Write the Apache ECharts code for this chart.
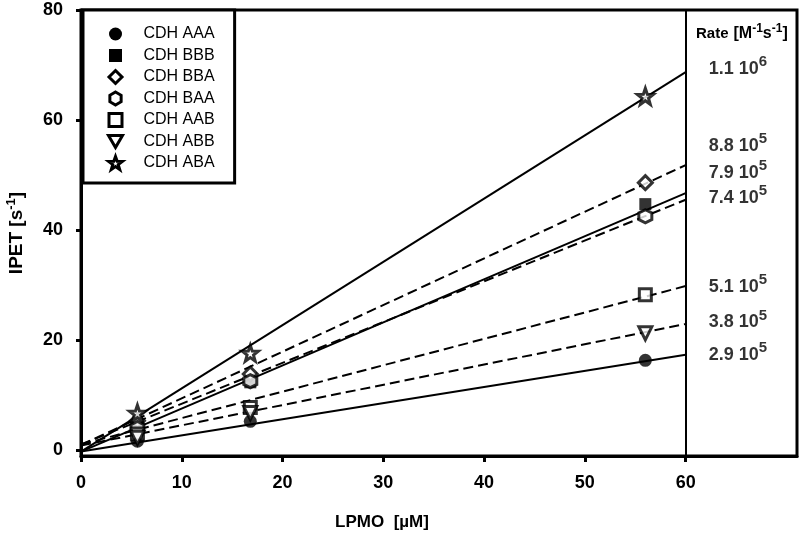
<!DOCTYPE html>
<html><head><meta charset="utf-8">
<script src="https://cdn.jsdelivr.net/npm/echarts@6/dist/echarts.min.js"></script>
<style>html,body{margin:0;padding:0;background:#fff}#c{width:800px;height:533px}</style>
</head><body><div id="c"></div>
<script>
// ---- data ----
const seriesNames = ['CDH AAA','CDH BBB','CDH BBA','CDH BAA','CDH AAB','CDH ABB','CDH ABA'];
const lpmo = [5.6, 16.8, 56.0];
const ipetAAA = [1.6, 5.2, 16.3];
const ipetBBB = [4.2, 12.3, 44.7];
const ipetBBA = [5.3, 13.8, 48.6];
const ipetBAA = [4.0, 12.5, 42.5];
const ipetAAB = [2.9, 7.7, 28.2];
const ipetABB = [2.2, 6.7, 21.2];
const ipetABA = [6.7, 17.6, 64.3];
const fitX = [0, 60];
const fitAAA = [-0.3, 17.3];
const fitBBB = [-0.3, 46.7];
const fitBBA = [0.9, 51.8];
const fitBAA = [1.0, 45.5];
const fitAAB = [1.0, 29.8];
const fitABB = [0.8, 22.9];
const fitABA = [-0.3, 68.7];
const rateMantissa = ['1.1','8.8','7.9','7.4','5.1','3.8','2.9'];
const rateExponent = ['6','5','5','5','5','5','5'];
const rateLabelY = [69.3, 55.3, 50.3, 45.8, 29.6, 23.2, 17.3];
const xTickValues = [0,10,20,30,40,50,60];
const yTickValues = [0,20,40,60,80];

const ipet = [ipetAAA, ipetBBB, ipetBBA, ipetBAA, ipetAAB, ipetABB, ipetABA];
const fits = [fitAAA, fitBBB, fitBBA, fitBAA, fitAAB, fitABB, fitABA];
const dashed = [false, false, true, true, true, true, false];

const FONT = 'Liberation Sans, Arial, sans-serif';
const rectPath = 'path://M-8,-8 L8,-8 L8,8 L-8,8 Z';
const diamondPath = 'path://M0,-10 L10,0 L0,10 L-10,0 Z';
const hexPath = 'path://M0,-10 L8.66,-5 L8.66,5 L0,10 L-8.66,5 L-8.66,-5 Z';
const starPath = 'path://M0,-10 L2.35,-3.24 L9.51,-3.09 L3.8,1.24 L5.88,8.09 L0,4 L-5.88,8.09 L-3.8,1.24 L-9.51,-3.09 L-2.35,-3.24 Z';
const triPath = 'path://M-10,-8 L10,-8 L0,9 Z';
const hollow = {color:'#fff', borderColor:'#000', borderWidth:3};
const filled = {color:'#000', borderColor:'#000', borderWidth:0};
const markers = [
  {symbol:'circle', size:13, style:filled},
  {symbol:rectPath, size:12, style:filled},
  {symbol:diamondPath, size:14, style:hollow},
  {symbol:hexPath, size:13, style:hollow},
  {symbol:rectPath, size:12, style:hollow},
  {symbol:triPath, size:13, style:hollow},
  {symbol:starPath, size:16, style:hollow}
];

const series = [];
seriesNames.forEach((name, i) => {
  series.push({
    type:'line', name, z:2, showSymbol:false, silent:true,
    data: fitX.map((x, j) => [x, fits[i][j]]),
    lineStyle:{color:'#000', width:2, type: dashed[i] ? [10,5] : 'solid'}
  });
});
seriesNames.forEach((name, i) => {
  series.push({
    type:'scatter', name, z:5,
    symbol: markers[i].symbol, symbolSize: markers[i].size,
    itemStyle: markers[i].style,
    data: lpmo.map((x, j) => [x, ipet[i][j]])
  });
});
series.push({
  type:'scatter', name:'rates', z:6, symbolSize:0, silent:true,
  data: rateLabelY.map((y, i) => ({value:[62.3, y],
    label:{show:true, position:'right', distance:0,
      formatter:'{m|' + rateMantissa[i] + ' 10}{e|' + rateExponent[i] + '}'}})),
  label:{show:true, rich:{
    m:{fontFamily:FONT, fontSize:18, fontWeight:'bold', color:'#000'},
    e:{fontFamily:FONT, fontSize:15, fontWeight:'bold', color:'#000', padding:[0,0,14,0]}
  }},
  markLine:{silent:true, symbol:['none','none'], label:{show:false},
    lineStyle:{color:'#000', width:2, type:'solid'},
    data:[{xAxis:60}]}
});

const chart = echarts.init(document.getElementById('c'));
chart.setOption({
  animation:false,
  backgroundColor:'#fff',
  grid:{left:81, right:3, top:10, bottom:77, show:true, borderColor:'#000', borderWidth:3, outerBoundsMode:'none', containLabel:false},
  title:{left:691, top:18, text:'{b|Rate} {n|[M}{s|-1}{n|s}{s|-1}{n|]}',
    textStyle:{rich:{
      b:{fontFamily:FONT, fontSize:15, fontWeight:'bold', color:'#000'},
      n:{fontFamily:FONT, fontSize:16, color:'#000'},
      s:{fontFamily:FONT, fontSize:12, color:'#000', padding:[0,0,10,0]}
    }}},
  legend:{
    orient:'vertical', left:83, top:10, padding:[16,20,12,24],
    itemWidth:14, itemHeight:13, itemGap:5.5,
    borderColor:'#000', borderWidth:3, backgroundColor:'#fff',
    textStyle:{fontFamily:FONT, fontSize:16, color:'#000', padding:[0,0,0,16]},
    data: seriesNames.map((n, i) => ({name:n, icon:markers[i].symbol, itemStyle:markers[i].style}))
  },
  xAxis:{
    type:'value', min:0, max:71.05,
    axisLine:{show:true, onZero:false, lineStyle:{color:'#000', width:3}},
    axisTick:{show:true, length:6, lineStyle:{color:'#000', width:3}, customValues:xTickValues},
    axisLabel:{margin:18, fontFamily:FONT, fontSize:18, fontWeight:'bold', color:'#000', customValues:xTickValues},
    splitLine:{show:false}
  },
  yAxis:{
    type:'value', min:-1.1, max:80,
    name:'{a|IPET [s}{s|-1}{a|]}', nameLocation:'middle', nameGap:53,
    nameTextStyle:{rich:{
      a:{fontFamily:FONT, fontSize:19, fontWeight:'bold', color:'#000'},
      s:{fontFamily:FONT, fontSize:13, fontWeight:'bold', color:'#000', padding:[0,0,10,0]}
    }},
    axisLine:{show:true, lineStyle:{color:'#000', width:3}},
    axisTick:{show:true, length:5, lineStyle:{color:'#000', width:3}, customValues:yTickValues},
    axisLabel:{margin:18, fontFamily:FONT, fontSize:18, fontWeight:'bold', color:'#000', customValues:yTickValues},
    splitLine:{show:false}
  },
  graphic:[{type:'text', x:382, y:522, silent:true,
    style:{text:'LPMO  [µM]', fontFamily:FONT, fontSize:17, fontWeight:'bold', fill:'#000', align:'center', verticalAlign:'middle'}}],
  series
});
</script></body></html>
